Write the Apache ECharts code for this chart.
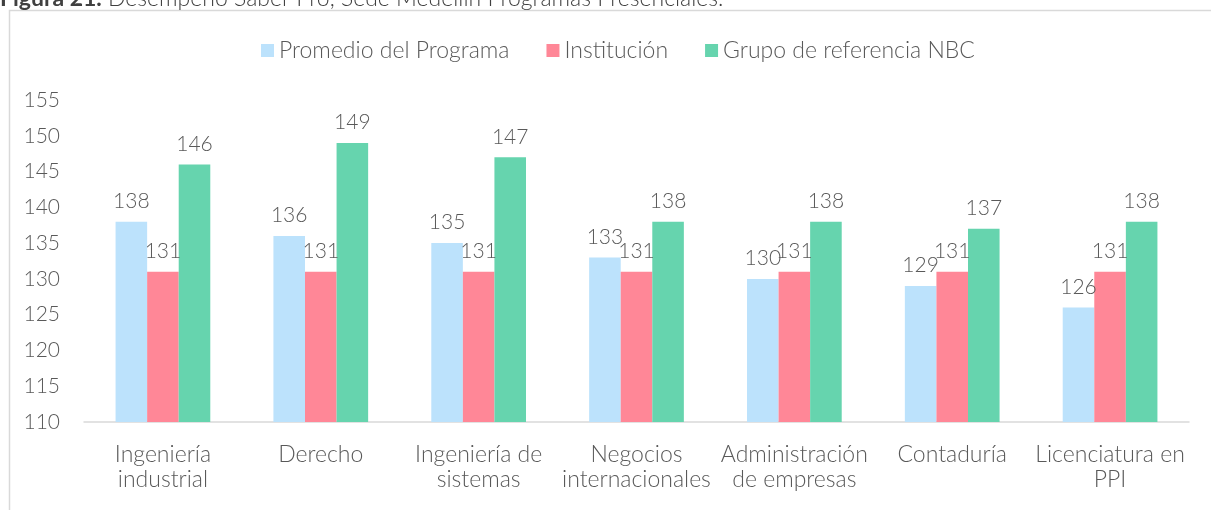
<!DOCTYPE html>
<html>
<head>
<meta charset="utf-8">
<script src="https://cdn.jsdelivr.net/npm/echarts@6/dist/echarts.min.js"></script>
<style>
html,body{margin:0;padding:0;background:#fff;}
#chart{width:1211px;height:510px;}
</style>
</head>
<body>
<div id="chart"></div>
<script>
const categories = ["Ingeniería\nindustrial", "Derecho", "Ingeniería de\nsistemas", "Negocios\ninternacionales", "Administración\nde empresas", "Contaduría", "Licenciatura en\nPPI"];
const promedio = [138, 136, 135, 133, 130, 129, 126];
const institucion = [131, 131, 131, 131, 131, 131, 131];
const grupoNBC = [146, 149, 147, 138, 138, 137, 138];
const seriesNames = ["Promedio del Programa", "Institución", "Grupo de referencia NBC"];
const colors = ["#BCE2FC", "#FF8797", "#66D4AE"];
const FONT = "Lato";
const FW = 300;
const FS = 21;
const FT = 23;
const TXT = "#595959";

const chart = echarts.init(document.getElementById('chart'));
const labelCfg = {show: true, position: 'top', distance: 10, color: TXT, fontSize: FS, fontFamily: FONT, fontWeight: FW};
const mk = (name, data, c) => ({
  name, type: 'bar', data, barGap: '0%', barCategoryGap: '40%',
  itemStyle: {color: c}, label: labelCfg
});
chart.setOption({
  animation: false,
  color: colors,
  graphic: [
    {type: 'rect', shape: {x: 9.5, y: 10.5, width: 1300, height: 600}, style: {fill: 'none', stroke: '#d9d9d9', lineWidth: 1.5}, z: -1},
    {type: 'text', left: 0, top: -13, style: {
      text: '{b|Figura 21.} Desempeño Saber Pro, Sede Medellín Programas Presenciales.',
      fontFamily: FONT, fontSize: FT, fontWeight: FW, fill: '#404040',
      rich: {b: {fontWeight: 'bold', fontFamily: FONT, fontSize: FT, fill: '#404040'}}
    }}
  ],
  legend: {
    top: 34, left: 256, itemWidth: 13, itemHeight: 13, itemGap: 37, icon: 'rect',
    textStyle: {color: TXT, fontSize: FT, fontFamily: FONT, fontWeight: FW},
    data: seriesNames
  },
  grid: {left: 84, right: 22, top: 100, bottom: 88, containLabel: false},
  xAxis: {
    type: 'category', data: categories,
    axisLine: {lineStyle: {color: '#d9d9d9', width: 1.5}},
    axisTick: {show: false},
    axisLabel: {color: TXT, fontSize: FT, fontFamily: FONT, fontWeight: FW, margin: 20, lineHeight: 25, interval: 0}
  },
  yAxis: {
    type: 'value', min: 110, max: 155, interval: 5,
    axisLine: {show: false}, axisTick: {show: false}, splitLine: {show: false},
    axisLabel: {color: TXT, fontSize: FS, fontFamily: FONT, fontWeight: FW, margin: 24}
  },
  series: [
    mk(seriesNames[0], promedio, colors[0]),
    mk(seriesNames[1], institucion, colors[1]),
    mk(seriesNames[2], grupoNBC, colors[2])
  ]
});
</script>
</body>
</html>
